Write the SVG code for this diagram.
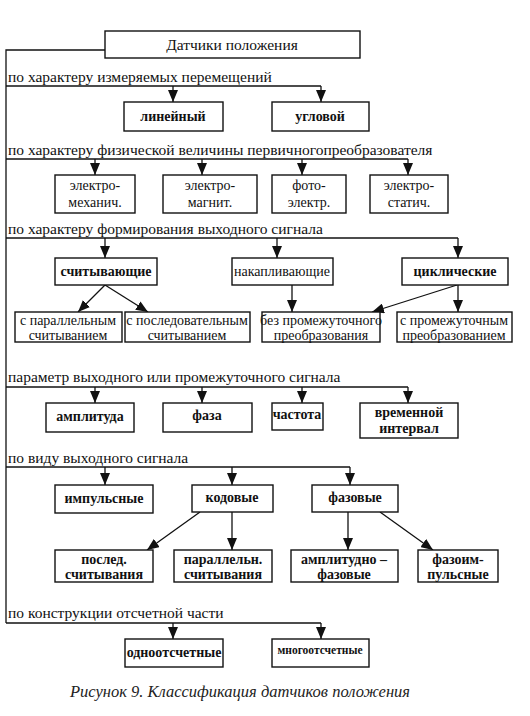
<svg xmlns="http://www.w3.org/2000/svg" width="530" height="716" viewBox="0 0 530 716" font-family="'Liberation Serif', 'Times New Roman', serif">
<defs>
<marker id="ah" viewBox="0 0 12 10" refX="12" refY="5" markerWidth="12" markerHeight="10" markerUnits="userSpaceOnUse" orient="auto">
<path d="M0,0 L12,5 L0,10 z" fill="#111"/>
</marker>
<style>
text{font-family:'Liberation Serif','Times New Roman',serif;fill:#111}
.box{fill:#fff;stroke:#111;stroke-width:1.4}
.t{font-size:14px;text-anchor:middle}
.b{font-weight:bold}
.lbl{font-size:15.5px}
.ln{fill:none;stroke:#111;stroke-width:1.3}
.ar{fill:none;stroke:#111;stroke-width:1.3;marker-end:url(#ah)}
.cap{font-size:16.5px;font-style:italic;text-anchor:middle;fill:#222}
</style>
</defs>
<rect width="530" height="716" fill="#fff"/>

<g id="connectors">
<path class="ln" d="M105,50 H6 V623"/>
<path class="ln" d="M6,86 H321"/>
<path class="ar" d="M173,86 V102"/>
<path class="ar" d="M321,86 V102"/>
<path class="ln" d="M6,159 H408"/>
<path class="ar" d="M95,159 V175"/>
<path class="ar" d="M202,159 V175"/>
<path class="ar" d="M302,159 V175"/>
<path class="ar" d="M408,159 V175"/>
<path class="ln" d="M6,238 H458"/>
<path class="ar" d="M105,238 V258"/>
<path class="ar" d="M277,238 V258"/>
<path class="ar" d="M458,238 V258"/>
<path class="ar" d="M105,285 L78,312"/>
<path class="ar" d="M105,285 L148,312"/>
<path class="ar" d="M292,285 V312"/>
<path class="ar" d="M457,285 L372,312"/>
<path class="ar" d="M458,285 V312"/>
<path class="ln" d="M6,387 H408"/>
<path class="ar" d="M95,387 V403"/>
<path class="ar" d="M202,387 V403"/>
<path class="ar" d="M302,387 V403"/>
<path class="ar" d="M408,387 V403"/>
<path class="ln" d="M6,467 H350"/>
<path class="ar" d="M105,467 V485"/>
<path class="ar" d="M232,467 V485"/>
<path class="ar" d="M350,467 V485"/>
<path class="ar" d="M200,512 L147,550"/>
<path class="ar" d="M232,512 V550"/>
<path class="ar" d="M348,512 V550"/>
<path class="ar" d="M380,512 L433,550"/>
<path class="ln" d="M6,623 H321"/>
<path class="ar" d="M173,623 V639"/>
<path class="ar" d="M321,623 V639"/>
</g>

<g id="labels">
<text class="lbl" x="8" y="82">по характеру измеряемых перемещений</text>
<text class="lbl" x="8" y="155">по характеру физической величины первичногопреобразователя</text>
<text class="lbl" x="8" y="234">по характеру формирования выходного сигнала</text>
<text class="lbl" x="8" y="382">параметр выходного или промежуточного сигнала</text>
<text class="lbl" x="8" y="463">по виду выходного сигнала</text>
<text class="lbl" x="8" y="618">по конструкции отсчетной части</text>
</g>

<g id="root"><rect class="box" x="105" y="31" width="255" height="27"/><text class="t" x="232" y="50" style="font-size:15.5px">Датчики положения</text></g>

<g id="n-lin"><rect class="box" x="124" y="102" width="99" height="29"/><text class="t b" x="173" y="121">линейный</text></g>
<g id="n-ugl"><rect class="box" x="272" y="102" width="97" height="29"/><text class="t b" x="320" y="121">угловой</text></g>

<g id="n-em"><rect class="box" x="55" y="175" width="80" height="38"/><text class="t" x="95" y="190">электро-</text><text class="t" x="95" y="207">механич.</text></g>
<g id="n-emag"><rect class="box" x="163" y="175" width="94" height="38"/><text class="t" x="210" y="190">электро-</text><text class="t" x="210" y="207">магнит.</text></g>
<g id="n-foto"><rect class="box" x="272" y="175" width="74" height="38"/><text class="t" x="309" y="190">фото-</text><text class="t" x="309" y="207">электр.</text></g>
<g id="n-est"><rect class="box" x="370" y="175" width="78" height="38"/><text class="t" x="409" y="190">электро-</text><text class="t" x="409" y="207">статич.</text></g>

<g id="n-sch"><rect class="box" x="55" y="258" width="102" height="27"/><text class="t b" x="106" y="276">считывающие</text></g>
<g id="n-nak"><rect class="box" x="232" y="258" width="101" height="27"/><text class="t" x="282" y="276">накапливающие</text></g>
<g id="n-cik"><rect class="box" x="402" y="258" width="106" height="27"/><text class="t b" x="455" y="276">циклические</text></g>

<g id="n-spar"><rect class="box" x="15" y="312" width="107" height="30"/><text class="t" x="68" y="325">с параллельным</text><text class="t" x="68" y="340">считыванием</text></g>
<g id="n-spos"><rect class="box" x="125" y="312" width="125" height="30"/><text class="t" x="187" y="325">с последовательным</text><text class="t" x="187" y="340">считыванием</text></g>
<g id="n-bez"><rect class="box" x="262" y="312" width="118" height="30"/><text class="t" x="321" y="325">без промежуточного</text><text class="t" x="321" y="340">преобразования</text></g>
<g id="n-spr"><rect class="box" x="397" y="312" width="115" height="30"/><text class="t" x="454" y="325">с промежуточным</text><text class="t" x="454" y="340">преобразованием</text></g>

<g id="n-amp"><rect class="box" x="46" y="403" width="88" height="29"/><text class="t b" x="90" y="421">амплитуда</text></g>
<g id="n-faza"><rect class="box" x="163" y="403" width="89" height="29"/><text class="t b" x="207" y="420">фаза</text></g>
<g id="n-chas"><rect class="box" x="272" y="403" width="51" height="27"/><text class="t b" x="297" y="419">частота</text></g>
<g id="n-vrem"><rect class="box" x="360" y="403" width="98" height="35"/><text class="t b" x="409" y="417">временной</text><text class="t b" x="409" y="433">интервал</text></g>

<g id="n-imp"><rect class="box" x="55" y="485" width="98" height="28"/><text class="t b" x="104" y="503">импульсные</text></g>
<g id="n-kod"><rect class="box" x="192" y="485" width="81" height="27"/><text class="t b" x="232" y="502">кодовые</text></g>
<g id="n-faz"><rect class="box" x="312" y="485" width="86" height="27"/><text class="t b" x="355" y="502">фазовые</text></g>

<g id="n-posl"><rect class="box" x="55" y="550" width="98" height="32"/><text class="t b" x="104" y="564">послед.</text><text class="t b" x="104" y="579">считывания</text></g>
<g id="n-par"><rect class="box" x="174" y="550" width="98" height="32"/><text class="t b" x="223" y="564">параллельн.</text><text class="t b" x="223" y="579">считывания</text></g>
<g id="n-ampf"><rect class="box" x="291" y="550" width="107" height="32"/><text class="t b" x="344" y="564">амплитудно –</text><text class="t b" x="344" y="579">фазовые</text></g>
<g id="n-fimp"><rect class="box" x="418" y="550" width="80" height="32"/><text class="t b" x="458" y="564">фазоим-</text><text class="t b" x="458" y="579">пульсные</text></g>

<g id="n-odno"><rect class="box" x="125" y="639" width="98" height="28"/><text class="t b" x="174" y="657">одноотсчетные</text></g>
<g id="n-mnogo"><rect class="box" x="272" y="639" width="97" height="28"/><text class="t b" x="320" y="654" style="font-size:11.5px">многоотсчетные</text></g>

<text class="cap" x="240" y="697">Рисунок 9. Классификация датчиков положения</text>
</svg>
